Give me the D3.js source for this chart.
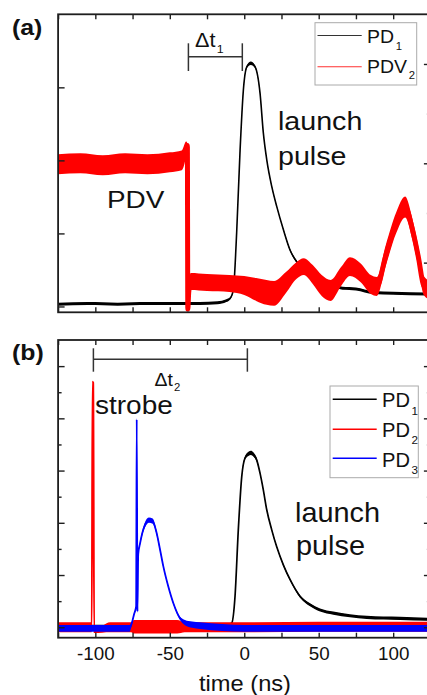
<!DOCTYPE html>
<html>
<head>
<meta charset="utf-8">
<script src="https://cdn.jsdelivr.net/npm/d3@7"></script>
<style>
  body { margin: 0; background: #fff; }
  svg { display: block; }
  text { font-family: "Liberation Sans", Arial, Helvetica, sans-serif; fill: #111; }
</style>
</head>
<body>
<svg id="chart" width="427" height="695"></svg>
<script>
// ---- time axis (ns) ----
const timeTicks = [-125, -100, -75, -50, -25, 0, 25, 50, 75, 100, 125];
const timeLabels = [-100, -50, 0, 50, 100];

// ---- panel (a): PD1 (left axis, V) ----
const pd1aTime   = [-125, -105, -85, -65, -45, -30, -18, -12, -9.5, -7.3, -5.1, -2.8, -0.6, 1.7, 4.4, 7.3, 10.6, 12.8, 15.1, 18.5, 21.8, 26.3, 30.8, 35.3, 42, 48.7, 59.8, 66, 75, 86.7, 100, 125];
const pd1aValue  = [0.003, 0.004, 0.003, 0.004, 0.004, 0.004, 0.005, 0.008, 0.011, 0.023, 0.101, 0.214, 0.296, 0.328, 0.333, 0.328, 0.292, 0.238, 0.201, 0.164, 0.137, 0.105, 0.077, 0.061, 0.048, 0.036, 0.029, 0.025, 0.024, 0.019, 0.018, 0.017];
const pd1aSpread = [0.002, 0.002, 0.002, 0.002, 0.002, 0.002, 0.002, 0.002, 0.0015, 0.001, 0.001, 0.001, 0.0015, 0.002, 0.0025, 0.002, 0.0015, 0.001, 0.001, 0.001, 0.001, 0.001, 0.0015, 0.0015, 0.0015, 0.002, 0.002, 0.002, 0.002, 0.002, 0.002, 0.002];

// ---- panel (a): PDV2 (right axis, V) ----
const pdvTime   = [-125, -110, -95, -80, -65, -50, -42, -39, -38.2, -37.9, -37.3, -36, -25, -10, 0, 8, 15, 20, 28, 35, 40, 46, 52, 58, 65, 71, 78, 85, 89, 95, 102, 108, 113, 117, 120.5, 125];
const pdvValue  = [0.299, 0.300, 0.298, 0.300, 0.299, 0.301, 0.303, 0.315, 0.318, 0.153, 0.170, 0.181, 0.180, 0.179, 0.177, 0.173, 0.170, 0.169, 0.180, 0.192, 0.196, 0.188, 0.177, 0.172, 0.186, 0.196, 0.190, 0.178, 0.176, 0.207, 0.240, 0.256, 0.233, 0.205, 0.177, 0.172];
const pdvSpread = [0.0100, 0.0100, 0.0100, 0.0100, 0.0100, 0.0100, 0.0100, 0.007, 0.002, 0.001, 0.004, 0.0085, 0.0085, 0.0085, 0.0095, 0.0115, 0.0125, 0.0125, 0.0105, 0.0085, 0.0085, 0.0095, 0.0105, 0.0105, 0.0095, 0.0095, 0.0095, 0.0095, 0.0095, 0.0105, 0.0105, 0.0105, 0.0105, 0.0105, 0.0095, 0.0095];

// ---- panel (b): PD1 ----
const pd1bTime   = [-125, -100, -75, -50, -25, -12, -8.4, -6.2, -4, -1.7, 0.5, 2.8, 4.5, 6.1, 8.4, 10.6, 12.8, 15.1, 18.5, 21.8, 26.3, 30.8, 37.5, 44.2, 50.9, 59.8, 71, 82.3, 104.6, 125];
const pd1bValue  = [0.002, 0.002, 0.002, 0.002, 0.002, 0.003, 0.008, 0.059, 0.186, 0.288, 0.324, 0.332, 0.334, 0.331, 0.320, 0.295, 0.263, 0.225, 0.186, 0.154, 0.119, 0.091, 0.059, 0.043, 0.033, 0.027, 0.022, 0.019, 0.017, 0.015];
const pd1bSpread = [0.003, 0.003, 0.003, 0.003, 0.003, 0.003, 0.002, 0.001, 0.001, 0.0015, 0.003, 0.004, 0.004, 0.004, 0.003, 0.0015, 0.0015, 0.0015, 0.0015, 0.0015, 0.002, 0.002, 0.0025, 0.003, 0.003, 0.003, 0.003, 0.003, 0.003, 0.003];

// ---- panel (b): PD2 ----
const pd2Time   = [-125, -110, -102.4, -101.9, -101.4, -100.8, -90, -76, -74, -60, -45, -40, -20, 0, 50, 100, 125];
const pd2Value  = [0.000, 0.000, 0.000, 0.470, 0.468, -0.008, 0.000, 0.000, 0.001, 0.001, 0.001, 0.000, 0.000, 0.000, 0.001, 0.001, 0.001];
const pd2Spread = [0.0095, 0.0095, 0.0095, 0.001, 0.001, 0.003, 0.0095, 0.0095, 0.013, 0.013, 0.013, 0.0095, 0.0095, 0.0095, 0.0095, 0.0095, 0.0095];

// ---- panel (b): PD3 ----
const pd3Time   = [-125, -100, -77, -75.5, -74, -72.6, -72.2, -71.7, -71.2, -70, -68.5, -66.5, -64, -61.5, -58.8, -56.5, -54.3, -51, -47.6, -43.1, -39.8, -35, -29.7, 0, 50, 100, 125];
const pd3Value  = [-0.002, -0.002, -0.002, 0.008, 0.025, 0.040, 0.398, 0.030, 0.140, 0.160, 0.180, 0.197, 0.205, 0.203, 0.180, 0.148, 0.116, 0.078, 0.046, 0.017, 0.009, 0.005, 0.003, -0.002, -0.002, -0.002, -0.002];
const pd3Spread = [0.0065, 0.0065, 0.0065, 0.003, 0.0015, 0.001, 0.0005, 0.0005, 0.001, 0.003, 0.004, 0.005, 0.005, 0.005, 0.004, 0.003, 0.002, 0.002, 0.002, 0.003, 0.005, 0.006, 0.0065, 0.0065, 0.0065, 0.0065, 0.0065];

// ---- interval markers (ns) ----
const dt1Span = [-37.5, -1.3];
const dt2Span = [-101.3, 2.1];

const svg = d3.select("#chart");
const ink = "#1e1e1e";

const x = d3.scaleLinear().domain([-125, 125]).range([58.1, 430.4]);
const A = { top: 14.3, bottom: 312.3 };
const B = { top: 340, bottom: 637.7 };
const yA  = d3.scaleLinear().domain([-0.008, 0.4]).range([A.bottom, A.top]);
const yA2 = d3.scaleLinear().domain([0.15, 0.45]).range([A.bottom, A.top]);
const yB  = d3.scaleLinear().domain([-0.02, 0.55]).range([B.bottom, B.top]);

const defs = svg.append("defs");
function clip(id, p) {
  defs.append("clipPath").attr("id", id).append("rect")
    .attr("x", x.range()[0]).attr("y", p.top)
    .attr("width", x.range()[1] - x.range()[0]).attr("height", p.bottom - p.top);
}
clip("clipA", A);
clip("clipB", B);

// a trace is drawn as its noise band plus the centre line
function trace(g, t, v, s, y, color, lw) {
  const rows = t.map((d, i) => ({ t: d, v: v[i], s: s[i] }));
  g.append("path").datum(rows)
    .attr("fill", color).attr("stroke", "none")
    .attr("d", d3.area().curve(d3.curveMonotoneX)
      .x(d => x(d.t)).y0(d => y(d.v - d.s)).y1(d => y(d.v + d.s)));
  g.append("path").datum(rows)
    .attr("fill", "none").attr("stroke", color).attr("stroke-width", lw)
    .attr("stroke-linejoin", "round")
    .attr("d", d3.line().curve(d3.curveMonotoneX).x(d => x(d.t)).y(d => y(d.v)));
}

// text with optional subscript; sx widens glyphs horizontally
function label(xp, yp, main, size, opts = {}) {
  const sx = opts.sx || 1;
  const t = svg.append("text")
    .attr("transform", `translate(${xp},${yp}) scale(${sx},1)`)
    .attr("font-size", size)
    .attr("font-weight", opts.bold ? "bold" : "normal")
    .attr("text-anchor", opts.anchor || "start");
  t.append("tspan").text(main);
  if (opts.sub) {
    t.append("tspan").text(opts.sub)
      .attr("font-size", opts.subSize || size * 0.58)
      .attr("dx", opts.subDx || 1.5)
      .attr("dy", opts.subDy || size * 0.36);
  }
  return t;
}

// ---- panel (a) traces ----
const gA = svg.append("g").attr("clip-path", "url(#clipA)");
trace(gA, pd1aTime, pd1aValue, pd1aSpread, yA, "#000", 1.6);
trace(gA, pdvTime, pdvValue, pdvSpread, yA2, "#ff0000", 5);

// ---- panel (b) traces ----
const gB = svg.append("g").attr("clip-path", "url(#clipB)");
trace(gB, pd1bTime, pd1bValue, pd1bSpread, yB, "#000", 1.7);
trace(gB, pd2Time, pd2Value, pd2Spread, yB, "#ff0000", 1.9);
trace(gB, pd3Time, pd3Value, pd3Spread, yB, "#0000ff", 1.8);

// ---- axes and frames ----
function styleAxis(g) {
  g.select(".domain").remove();
  g.selectAll(".tick line").attr("stroke", ink).attr("stroke-width", 1.4);
}
function frame(p, yLeft, leftTicks, leftMinor, yRight, rightTicks, rightMinor) {
  svg.append("g").attr("transform", `translate(0,${p.bottom})`)
    .call(d3.axisBottom(x).tickValues(timeTicks).tickSize(-5).tickFormat("")).call(styleAxis);
  svg.append("g").attr("transform", `translate(0,${p.top})`)
    .call(d3.axisTop(x).tickValues(timeTicks).tickSize(-5).tickFormat("")).call(styleAxis);
  const l0 = x.range()[0], r0 = x.range()[1];
  svg.append("g").attr("transform", `translate(${l0},0)`)
    .call(d3.axisLeft(yLeft).tickValues(leftTicks).tickSize(-6.5).tickFormat("")).call(styleAxis);
  if (leftMinor.length)
    svg.append("g").attr("transform", `translate(${l0},0)`)
      .call(d3.axisLeft(yLeft).tickValues(leftMinor).tickSize(-3.5).tickFormat("")).call(styleAxis);
  svg.append("g").attr("transform", `translate(${r0},0)`)
    .call(d3.axisRight(yRight).tickValues(rightTicks).tickSize(-6.5).tickFormat("")).call(styleAxis);
  svg.append("g").attr("transform", `translate(${r0},0)`)
    .call(d3.axisRight(yRight).tickValues(rightMinor).tickSize(-3.5).tickFormat("")).call(styleAxis);
  svg.append("rect")
    .attr("x", l0).attr("y", p.top).attr("width", r0 - l0).attr("height", p.bottom - p.top)
    .attr("fill", "none").attr("stroke", ink).attr("stroke-width", 1.8);
}
frame(A, yA, [0, 0.1, 0.2, 0.3], [], yA2, [0.2, 0.3, 0.4], [0.25, 0.35]);
frame(B, yB, [0, 0.1, 0.2, 0.3, 0.4, 0.5], [0.05, 0.15, 0.25, 0.35, 0.45],
         yB, [0, 0.1, 0.2, 0.3, 0.4, 0.5], [0.05, 0.15, 0.25, 0.35, 0.45]);

// tick labels and axis title
const xl = svg.append("g").attr("transform", `translate(0,${B.bottom})`)
  .call(d3.axisBottom(x).tickValues(timeLabels).tickSize(0).tickPadding(0).tickFormat(d => String(d)));
xl.select(".domain").remove();
xl.selectAll("text").attr("font-size", 18.8).attr("fill", "#111")
  .attr("font-family", '"Liberation Sans", Arial, sans-serif')
  .attr("dy", null).attr("y", 22.3);
label(245, 690.5, "time (ns)", 21.5, { sx: 1.1, anchor: "middle" });

// panel letters
label(12, 35, "(a)", 22, { bold: true, sx: 1.13 });
label(12, 359.5, "(b)", 22, { bold: true, sx: 1.13 });

// ---- interval brackets ----
function bracket(span, yh, y0, y1) {
  const g = svg.append("g").attr("stroke", "#333").attr("stroke-width", 1.5).attr("fill", "none");
  g.append("line").attr("x1", x(span[0])).attr("x2", x(span[1])).attr("y1", yh).attr("y2", yh);
  span.forEach(t => g.append("line").attr("x1", x(t)).attr("x2", x(t)).attr("y1", y0).attr("y2", y1));
}
bracket(dt1Span, 56.7, 43.3, 71);
bracket(dt2Span, 359.3, 348.3, 371.7);
label(195, 46.7, "\u0394t", 20, { sub: "1", subSize: 11.5, subDy: 6.6, subDx: 1.2, sx: 1.08 });
label(154.5, 386, "\u0394t", 18, { sub: "2", subSize: 10.5, subDy: 4.5, subDx: 1.0, sx: 1.08 });

// ---- annotations ----
label(107, 208.3, "PDV", 24.7, { sx: 1.13 });
label(278, 130, "launch", 26.5, { sx: 1.08 });
label(278, 165.3, "pulse", 26.5, { sx: 1.08 });
label(95, 414, "strobe", 25, { sx: 1.12 });
label(295, 521.7, "launch", 27.5, { sx: 1.05 });
label(296, 555, "pulse", 27.5, { sx: 1.05 });

// ---- legends ----
function legend(box, rows, size, sx, lineW) {
  svg.append("rect").attr("x", box[0]).attr("y", box[1])
    .attr("width", box[2] - box[0]).attr("height", box[3] - box[1])
    .attr("fill", "#fff").attr("stroke", "#aaa").attr("stroke-width", 1);
  rows.forEach(r => {
    svg.append("line").attr("x1", r.x0).attr("x2", r.x1).attr("y1", r.ly).attr("y2", r.ly)
      .attr("stroke", r.color).attr("stroke-width", lineW);
    label(r.tx, r.ty, r.name, size, { sub: r.sub, subSize: size * 0.58, subDy: size * 0.38, subDx: 1.6, sx: sx });
  });
}
legend([315, 22.7, 416.7, 85], [
  { name: "PD", sub: "1", color: "#333", x0: 317.5, x1: 361.7, ly: 35.5, tx: 367, ty: 43.3 },
  { name: "PDV", sub: "2", color: "#ff3030", x0: 317.5, x1: 361.7, ly: 66.7, tx: 367, ty: 72.7 }
], 17.7, 1.1, 1.1);
legend([330, 386, 418.3, 477.7], [
  { name: "PD", sub: "1", color: "#000", x0: 332.7, x1: 376.7, ly: 399.3, tx: 382, ty: 407.2 },
  { name: "PD", sub: "2", color: "#ff0000", x0: 332.7, x1: 376.7, ly: 429.3, tx: 382, ty: 437 },
  { name: "PD", sub: "3", color: "#0000ff", x0: 332.7, x1: 376.7, ly: 458.3, tx: 382, ty: 466.5 }
], 19.5, 1.03, 1.6);
</script>
</body>
</html>
